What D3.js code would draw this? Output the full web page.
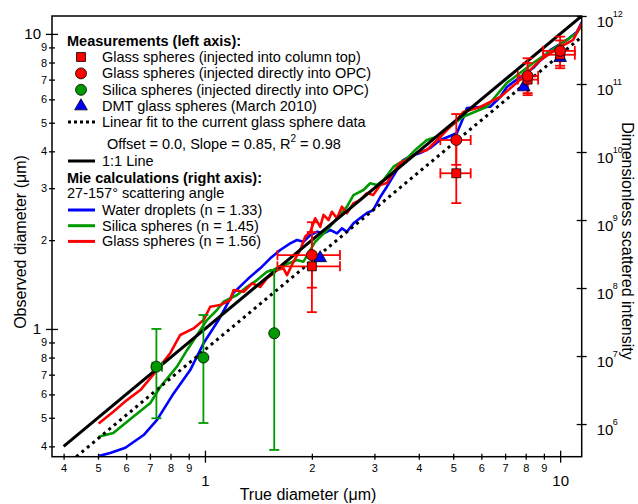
<!DOCTYPE html>
<html>
<head>
<meta charset="utf-8">
<script src="https://cdn.jsdelivr.net/npm/d3@7"></script>
<style>
  body { margin: 0; background: #fff; }
  text { font-family: Arial, "Liberation Sans", sans-serif; fill: #000; }
</style>
</head>
<body>
<svg id="chart" width="638" height="504"></svg>
<script>
// ---- data ----
// Mie calculations: [true diameter (um), dimensionless scattered intensity]
const waterMie = [
  [0.502, 3.38e5], [0.541, 3.75e5], [0.597, 4.48e5], [0.672, 6.89e5], [0.733, 1.15e6],
  [0.816, 2.82e6], [0.909, 6.22e6], [0.991, 1.54e7], [1.092, 3.38e7], [1.201, 8.43e7],
  [1.342, 1.47e8], [1.431, 1.95e8], [1.527, 2.73e8], [1.629, 3.62e8], [1.738, 4.54e8],
  [1.816, 5.08e8], [1.894, 4.80e8], [1.979, 6.01e8], [2.067, 6.73e8], [2.157, 6.37e8],
  [2.253, 7.13e8], [2.354, 6.37e8], [2.430, 7.55e8], [2.510, 6.73e8], [2.619, 8.94e8],
  [2.736, 1.07e9], [2.858, 1.27e9], [2.976, 1.40e9], [3.115, 2.18e9], [3.253, 3.09e9],
  [3.471, 5.44e9], [3.616, 7.62e9], [3.784, 8.73e9], [4.036, 9.66e9], [4.308, 1.15e10],
  [4.595, 1.50e10], [4.903, 1.72e10], [5.121, 1.90e10], [5.335, 3.16e10], [5.465, 4.44e10],
  [5.957, 4.59e10], [6.356, 4.63e10], [6.781, 6.44e10], [7.081, 9.04e10], [7.717, 1.27e11],
  [8.395, 1.72e11], [9.377, 3.16e11], [10.45, 4.44e11], [11.14, 5.82e11], [11.51, 8.16e11]
];
const silicaMie = [
  [0.502, 6.50e5], [0.552, 7.38e5], [0.628, 1.28e6], [0.702, 2.04e6], [0.749, 3.54e6],
  [0.834, 6.97e6], [0.890, 1.22e7], [0.950, 2.04e7], [1.013, 3.38e7], [1.081, 4.75e7],
  [1.128, 6.29e7], [1.231, 7.89e7], [1.313, 1.04e8], [1.401, 1.31e8], [1.495, 1.74e8],
  [1.557, 1.84e8], [1.629, 2.06e8], [1.816, 2.58e8], [1.894, 2.44e8], [1.979, 3.62e8],
  [2.044, 4.80e8], [2.112, 5.68e8], [2.205, 7.13e8], [2.354, 1.06e9], [2.510, 1.57e9],
  [2.619, 2.33e9], [2.794, 2.76e9], [2.919, 3.47e9], [3.049, 3.27e9], [3.182, 3.87e9],
  [3.396, 6.08e9], [3.704, 8.07e9], [3.951, 1.13e10], [4.216, 1.50e10], [4.496, 1.68e10],
  [5.335, 3.30e10], [6.220, 4.63e10], [7.081, 1.04e11], [8.395, 2.04e11], [9.792, 3.54e11],
  [11.14, 5.62e11], [11.51, 7.38e11]
];
const glassMie = [
  [0.502, 1.02e6], [0.552, 1.52e6], [0.603, 2.25e6], [0.658, 3.16e6], [0.733, 6.22e6],
  [0.799, 1.11e7], [0.852, 2.04e7], [0.929, 2.55e7], [0.991, 3.38e7], [1.035, 5.31e7],
  [1.104, 5.62e7], [1.178, 6.67e7], [1.204, 9.35e7], [1.285, 8.83e7], [1.357, 1.17e8],
  [1.431, 1.04e8], [1.495, 1.39e8], [1.560, 1.64e8], [1.595, 1.84e8], [1.664, 1.95e8],
  [1.702, 1.55e8], [1.776, 2.44e8], [1.855, 3.62e8], [1.915, 5.68e8], [1.979, 6.73e8],
  [2.044, 1.06e9], [2.112, 7.96e8], [2.157, 1.19e9], [2.228, 1.00e9], [2.277, 1.32e9],
  [2.354, 1.06e9], [2.430, 1.57e9], [2.510, 1.26e9], [2.619, 1.76e9], [2.736, 1.97e9],
  [2.858, 2.49e9], [2.976, 2.33e9], [3.115, 3.27e9], [3.253, 3.50e9], [3.396, 5.08e9],
  [3.546, 6.89e9], [3.704, 7.62e9], [3.951, 9.66e9], [4.216, 1.07e10], [4.595, 1.66e10],
  [5.121, 2.96e10], [5.335, 3.87e10], [5.957, 4.59e10], [6.781, 6.44e10], [7.717, 1.15e11],
  [8.787, 2.25e11], [10.0, 3.50e11], [10.88, 4.44e11], [11.51, 7.89e11]
];

// measurements: [true d, observed d, obs low, obs high, true low, true high]
const glassColumnTop = [
  [2.0, 1.63, 1.14, 2.3, 1.6, 2.4],
  [5.1, 3.37, 2.67, 4.3, 4.6, 5.6],
  [8.1, 7.0, 6.3, 7.97, 7.6, 8.67],
  [10.0, 8.5, 7.8, 9.5, 8.96, 11.0]
];
const glassDirect = [
  [2.0, 1.78, 1.38, 2.13, 1.6, 2.4],
  [5.1, 4.37, 3.6, 5.35, 4.6, 5.6],
  [8.1, 7.2, 6.2, 8.27, 7.6, 8.67],
  [10.0, 8.76, 7.65, 9.79, 8.96, 11.0]
];
const silicaDirect = [
  [0.73, 0.745, 0.498, 1.0, 0.711, 0.757],
  [0.99, 0.80, 0.48, 1.115, null, null],
  [1.567, 0.967, 0.389, 1.585, null, null]
];
const dmtGlass = [[2.11, 1.74], [7.9, 6.6], [10.0, 8.3]];

const fitSlope = 0.85;
const xMinorTicks = [0.4, 0.5, 0.6, 0.7, 0.8, 0.9, 2, 3, 4, 5, 6, 7, 8, 9];
const xMajorTicks = [1, 10];
const yMinorTicks = [0.4, 0.5, 0.6, 0.7, 0.8, 0.9, 2, 3, 4, 5, 6, 7, 8, 9];
const yMajorTicks = [1, 10];
const rightTicks = [6, 7, 8, 9, 10, 11, 12];

const RED = "#ff0000", GREEN = "#009a00", BLUE = "#0000ff";

// ---- layout ----
const plot = {left: 52, right: 581.7, top: 16, bottom: 456.7};
const svg = d3.select("#chart");

const x = d3.scaleLog().domain([0.371, 11.5]).range([plot.left, plot.right]);
const y = d3.scaleLog().domain([0.369, 11.5]).range([plot.bottom, plot.top]);
const yR = d3.scaleLog().domain([3.31e5, 1e12]).range([plot.bottom, plot.top]);

svg.append("clipPath").attr("id", "clip")
  .append("rect")
  .attr("x", plot.left).attr("y", plot.top)
  .attr("width", plot.right - plot.left).attr("height", plot.bottom - plot.top);

const inner = svg.append("g").attr("clip-path", "url(#clip)");

// Mie curves (right axis)
const mieLine = d3.line().x(d => x(d[0])).y(d => yR(d[1]));
[[waterMie, BLUE], [silicaMie, GREEN], [glassMie, RED]].forEach(([data, col]) => {
  inner.append("path").datum(data)
    .attr("fill", "none").attr("stroke", col).attr("stroke-width", 2.6)
    .attr("stroke-linejoin", "round")
    .attr("d", mieLine);
});

// 1:1 line and linear fit
const oneToOne = [0.4, 11.5];
inner.append("line")
  .attr("x1", x(oneToOne[0])).attr("y1", y(oneToOne[0]))
  .attr("x2", x(oneToOne[1])).attr("y2", y(oneToOne[1]))
  .attr("stroke", "#000").attr("stroke-width", 3);

const fitX = [0.369 / fitSlope, 11.5];
inner.append("line")
  .attr("x1", x(fitX[0])).attr("y1", y(fitX[0] * fitSlope))
  .attr("x2", x(fitX[1])).attr("y2", y(fitX[1] * fitSlope))
  .attr("stroke", "#000").attr("stroke-width", 3)
  .attr("stroke-dasharray", "3,4");

// error bars
function errorBars(data, col) {
  const g = svg.append("g").attr("stroke", col).attr("stroke-width", 1.8).attr("fill", "none");
  data.forEach(r => {
    const cx = x(r[0]), cy = y(r[1]);
    g.append("line").attr("x1", cx).attr("x2", cx).attr("y1", y(r[2])).attr("y2", y(r[3]));
    [r[2], r[3]].forEach(v => g.append("line")
      .attr("x1", cx - 5).attr("x2", cx + 5).attr("y1", y(v)).attr("y2", y(v)));
    if (r[4] != null) {
      g.append("line").attr("x1", x(r[4])).attr("x2", x(r[5])).attr("y1", cy).attr("y2", cy);
      [r[4], r[5]].forEach(v => g.append("line")
        .attr("x1", x(v)).attr("x2", x(v)).attr("y1", cy - 5).attr("y2", cy + 5));
    }
  });
}
errorBars(silicaDirect, GREEN);
errorBars(glassColumnTop, RED);
errorBars(glassDirect, RED);

// markers
const sq = d3.symbol().type(d3.symbolSquare).size(80);
const circ = d3.symbol().type(d3.symbolCircle).size(95);
const tri = d3.symbol().type(d3.symbolTriangle).size(70);

function markers(data, sym, col) {
  svg.append("g").selectAll("path").data(data).join("path")
    .attr("transform", d => `translate(${x(d[0])},${y(d[1])})`)
    .attr("d", sym)
    .attr("fill", col).attr("stroke", "#000").attr("stroke-width", 0.8);
}
markers(dmtGlass, tri, BLUE);
markers(glassColumnTop, sq, RED);
markers(glassDirect, circ, RED);
markers(silicaDirect, circ, GREEN);

// ---- axes ----
svg.append("rect")
  .attr("x", plot.left).attr("y", plot.top)
  .attr("width", plot.right - plot.left).attr("height", plot.bottom - plot.top)
  .attr("fill", "none").attr("stroke", "#000").attr("stroke-width", 1.5);

const smallFmt = d => d < 1 ? Math.round(d * 10) : d;

function styleAxis(g, fontSize) {
  g.select(".domain").remove();
  g.selectAll(".tick line").attr("stroke-width", 1.3);
  g.selectAll(".tick text").attr("font-size", fontSize).attr("font-family", "Arial, 'Liberation Sans', sans-serif");
}

const gxMinor = svg.append("g").attr("transform", `translate(0,${plot.bottom})`)
  .call(d3.axisBottom(x).tickValues(xMinorTicks).tickSize(3).tickFormat(smallFmt));
styleAxis(gxMinor, 11);
gxMinor.selectAll(".tick line").attr("y1", -3);
gxMinor.selectAll(".tick text").attr("y", 8);

const gxMajor = svg.append("g").attr("transform", `translate(0,${plot.bottom})`)
  .call(d3.axisBottom(x).tickValues(xMajorTicks).tickSize(6).tickFormat(d3.format("d")));
styleAxis(gxMajor, 15);
gxMajor.selectAll(".tick line").attr("y1", -6);
gxMajor.selectAll(".tick text").attr("y", 19);

const gyMinor = svg.append("g").attr("transform", `translate(${plot.left},0)`)
  .call(d3.axisLeft(y).tickValues(yMinorTicks).tickSize(3).tickFormat(smallFmt));
styleAxis(gyMinor, 11);
gyMinor.selectAll(".tick line").attr("x1", 3);
gyMinor.selectAll(".tick text").attr("x", -5);

const gyMajor = svg.append("g").attr("transform", `translate(${plot.left},0)`)
  .call(d3.axisLeft(y).tickValues(yMajorTicks).tickSize(6).tickFormat(d3.format("d")));
styleAxis(gyMajor, 15);
gyMajor.selectAll(".tick line").attr("x1", 6);
gyMajor.selectAll(".tick text").attr("x", -11);

const gyR = svg.append("g").attr("transform", `translate(${plot.right},0)`)
  .call(d3.axisRight(yR).tickValues(rightTicks.map(e => Math.pow(10, e))).tickSize(5).tickFormat(""));
styleAxis(gyR, 15);
gyR.selectAll(".tick line").attr("x1", -5);

rightTicks.forEach(e => {
  const ty = yR(Math.pow(10, e));
  svg.append("text").attr("x", plot.right + 15).attr("y", ty + 11)
    .attr("font-size", 15).text("10");
  svg.append("text").attr("x", plot.right + 31).attr("y", ty + 1)
    .attr("font-size", 9).text(e);
});

// axis titles
svg.append("text")
  .attr("x", 308).attr("y", 500).attr("text-anchor", "middle")
  .attr("font-size", 16).text("True diameter (\u03bcm)");
svg.append("text")
  .attr("transform", "translate(26,242) rotate(-90)").attr("text-anchor", "middle")
  .attr("font-size", 16).text("Observed diameter (\u03bcm)");
svg.append("text")
  .attr("transform", "translate(622,241) rotate(90)").attr("text-anchor", "middle")
  .attr("font-size", 16).text("Dimensionless scattered intensity");

// ---- legend ----
const leg = svg.append("g");
const lx = 67, sx = 81, tx = 102, fs = 14.5;
leg.append("text").attr("x", lx).attr("y", 46).attr("font-size", fs).attr("font-weight", "bold")
  .text("Measurements (left axis):");

const symRows = [
  [sq, RED, "Glass spheres (injected into column top)"],
  [circ, RED, "Glass spheres (injected directly into OPC)"],
  [circ, GREEN, "Silica spheres (injected directly into OPC)"],
  [tri, BLUE, "DMT glass spheres (March 2010)"]
];
symRows.forEach((r, i) => {
  const cy = 57 + i * 16.4;
  leg.append("path").attr("transform", `translate(${sx},${cy})`).attr("d", r[0])
    .attr("fill", r[1]).attr("stroke", "#000").attr("stroke-width", 0.8);
  leg.append("text").attr("x", tx).attr("y", cy + 5).attr("font-size", fs).text(r[2]);
});

leg.append("line").attr("x1", 68).attr("x2", 95).attr("y1", 122).attr("y2", 122)
  .attr("stroke", "#000").attr("stroke-width", 3).attr("stroke-dasharray", "3,3");
leg.append("text").attr("x", tx).attr("y", 127).attr("font-size", fs)
  .text("Linear fit to the current glass sphere data");

const fitTxt = leg.append("text").attr("x", 107).attr("y", 149).attr("font-size", fs);
fitTxt.append("tspan").text("Offset = 0.0, Slope = 0.85, R");
fitTxt.append("tspan").attr("font-size", 10).attr("dy", -7).text("2");
fitTxt.append("tspan").attr("dy", 7).text(" = 0.98");

leg.append("line").attr("x1", 68).attr("x2", 95).attr("y1", 161).attr("y2", 161)
  .attr("stroke", "#000").attr("stroke-width", 3);
leg.append("text").attr("x", tx).attr("y", 166).attr("font-size", fs).text("1:1 Line");

leg.append("text").attr("x", lx).attr("y", 183).attr("font-size", fs).attr("font-weight", "bold")
  .text("Mie calculations (right axis):");
leg.append("text").attr("x", lx).attr("y", 198).attr("font-size", fs)
  .text("27-157\u00b0 scattering angle");

const lineRows = [
  [BLUE, "Water droplets (n = 1.33)"],
  [GREEN, "Silica spheres (n = 1.45)"],
  [RED, "Glass spheres (n = 1.56)"]
];
lineRows.forEach((r, i) => {
  const cy = 210 + i * 15.7;
  leg.append("line").attr("x1", 68).attr("x2", 95).attr("y1", cy).attr("y2", cy)
    .attr("stroke", r[0]).attr("stroke-width", 3);
  leg.append("text").attr("x", tx).attr("y", cy + 5).attr("font-size", fs).text(r[1]);
});
</script>
</body>
</html>
